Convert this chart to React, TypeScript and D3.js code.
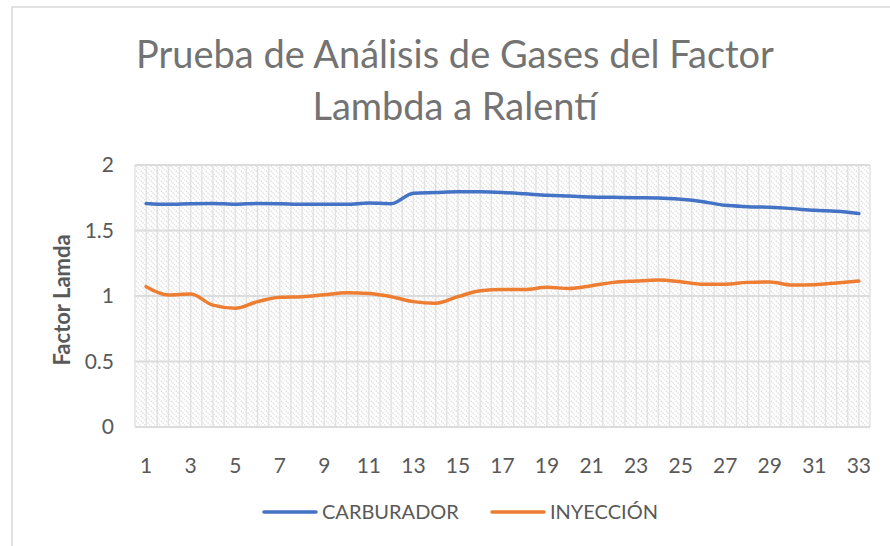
import React from 'react'
import * as d3 from 'd3'

const categories = [
  '1', '2', '3', '4', '5', '6', '7', '8', '9', '10', '11', '12', '13', '14', '15', '16', '17',
  '18', '19', '20', '21', '22', '23', '24', '25', '26', '27', '28', '29', '30', '31', '32', '33',
]

const carburador = [
  1.707, 1.700, 1.705, 1.707, 1.700, 1.707, 1.705, 1.700, 1.700, 1.700, 1.710, 1.705, 1.785,
  1.790, 1.795, 1.795, 1.790, 1.780, 1.769, 1.763, 1.756, 1.753, 1.750, 1.748, 1.738, 1.720,
  1.692, 1.682, 1.677, 1.667, 1.654, 1.647, 1.630,
]

const inyeccion = [
  1.071, 1.008, 1.015, 0.930, 0.906, 0.957, 0.990, 0.995, 1.010, 1.025, 1.020, 0.995, 0.957,
  0.944, 0.995, 1.040, 1.050, 1.050, 1.066, 1.058, 1.079, 1.104, 1.114, 1.122, 1.109, 1.089,
  1.090, 1.104, 1.107, 1.084, 1.086, 1.100, 1.114,
]

const yTicks = [0, 0.5, 1, 1.5, 2]
const xTickLabels = ['1', '3', '5', '7', '9', '11', '13', '15', '17', '19', '21', '23', '25', '27', '29', '31', '33']

const series = [
  { name: 'CARBURADOR', values: carburador, color: '#4472C4' },
  { name: 'INYECCIÓN', values: inyeccion, color: '#ED7D31' },
]

const W = 890
const H = 546
const left = 135
const right = 870
const top = 165
const bottom = 427
const font = 'Lato, Carlito, Calibri, sans-serif'

const x = d3.scaleBand().domain(categories).range([left, right])
const y = d3.scaleLinear().domain([0, 2]).range([bottom, top])

// gridlines on every band edge and band centre
const vLines = categories.flatMap((c) => [x(c)!, x(c)! + x.bandwidth() / 2]).concat([right])

const line = d3
  .line<number>()
  .x((d, i) => x(categories[i])! + x.bandwidth() / 2)
  .y((d) => y(d))
  .curve(d3.curveMonotoneX)

export default function App() {
  return (
    <svg
      width={W}
      height={H}
      style={{ position: 'absolute', left: 0, top: 0, background: '#fff' }}
    >
      <defs>
        <pattern id="hatch" width="5" height="5" patternUnits="userSpaceOnUse">
          <path d="M-1,-1 L6,6 M-1,4 L1,6 M4,-1 L6,1" stroke="#dadada" strokeWidth="1.2" strokeDasharray="1.4 1.1" />
        </pattern>
      </defs>
      <rect x={12} y={7} width={W} height={H} fill="#fff" stroke="#d9d9d9" strokeWidth={1.5} />

      <g fontFamily={font} fill="#737373" textAnchor="middle">
        <text x={455} y={68} fontSize={38}>Prueba de Análisis de Gases del Factor</text>
        <text x={455} y={120} fontSize={38}>Lambda a Ralentí</text>
      </g>

      <rect x={left} y={top} width={right - left} height={bottom - top} fill="url(#hatch)" />
      <g stroke="#e2e2e2" strokeWidth={1.4}>
        {vLines.map((vx, i) => (
          <line key={i} x1={vx} x2={vx} y1={top} y2={bottom} />
        ))}
      </g>
      <g stroke="#dcdcdc" strokeWidth={1.8}>
        {yTicks.map((t) => (
          <line key={t} x1={left} x2={right} y1={y(t)} y2={y(t)} />
        ))}
      </g>

      <g fontFamily={font} fontSize={21} fill="#595959">
        {yTicks.map((t) => (
          <text key={t} x={114} y={y(t)} dy="0.35em" textAnchor="end">
            {t}
          </text>
        ))}
        {xTickLabels.map((c) => (
          <text key={c} x={x(c)! + x.bandwidth() / 2} y={466} dy="0.35em" textAnchor="middle">
            {c}
          </text>
        ))}
      </g>

      <text
        transform={`translate(62,300) rotate(-90)`}
        fontFamily={font}
        fontSize={22}
        fontWeight="bold"
        fill="#595959"
        textAnchor="middle"
        dy="0.35em"
      >
        Factor Lamda
      </text>

      {series.map((s) => (
        <path
          key={s.name}
          d={line(s.values)!}
          fill="none"
          stroke={s.color}
          strokeWidth={3.5}
          strokeLinecap="round"
          strokeLinejoin="round"
        />
      ))}

      <g fontFamily={font} fontSize={20} fill="#595959">
        {series.map((s, i) => {
          const lx = i === 0 ? 264 : 492
          return (
            <g key={s.name}>
              <line x1={lx} x2={lx + 52} y1={512} y2={512} stroke={s.color} strokeWidth={3.5} strokeLinecap="round" />
              <text x={lx + 58} y={512} dy="0.35em">
                {s.name}
              </text>
            </g>
          )
        })}
      </g>
    </svg>
  )
}
